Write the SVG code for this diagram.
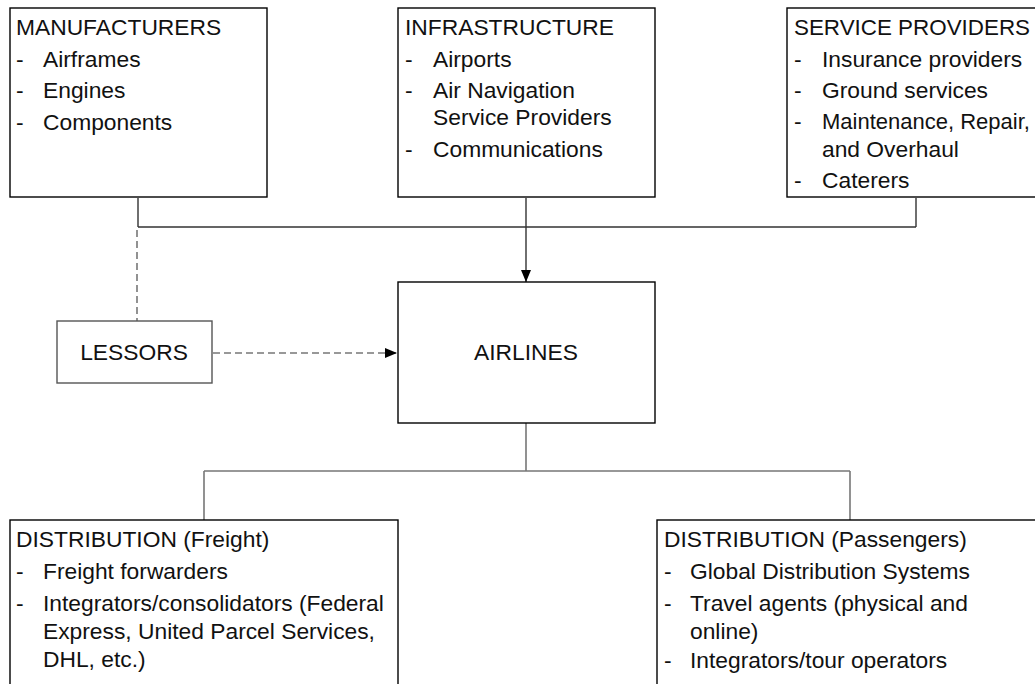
<svg xmlns="http://www.w3.org/2000/svg" width="1035" height="684" viewBox="0 0 1035 684">
  <style>
    .box { fill: #ffffff; stroke: #000000; stroke-width: 1.4; }
    .box-soft { fill: #ffffff; stroke: #555555; stroke-width: 1.4; }
    text { font-family: "Liberation Sans", Arial, sans-serif; font-size: 22.8px; fill: #111111; }
    .mid { text-anchor: middle; }
    .tight { font-size: 22px; }
    .link { fill: none; stroke: #333333; stroke-width: 1.4; }
    .link-grey { fill: none; stroke: #777777; stroke-width: 1.6; }
    .dashed { fill: none; stroke: #777777; stroke-width: 1.6; stroke-dasharray: 7 4; }
  </style>
  <defs>
    <marker id="arrow" viewBox="0 0 12 10" refX="12" refY="5" markerWidth="12" markerHeight="10" markerUnits="userSpaceOnUse" orient="auto">
      <path d="M0,0 L12,5 L0,10 Z" fill="#000000"/>
    </marker>
  </defs>

  <!-- connectors -->
  <g id="connectors">
    <!-- supply side feeding the airlines -->
    <path class="link" d="M138,198 V227 M916,198 V227 M138,227 H916"/>
    <path class="link" d="M526,198 V282" marker-end="url(#arrow)"/>
    <!-- manufacturers to lessors, lessors to airlines -->
    <path class="dashed" d="M137,230 V321"/>
    <path class="dashed" d="M213,353 H397" marker-end="url(#arrow)"/>
    <!-- airlines down to distribution -->
    <path class="link-grey" d="M526,423 V471 M204,471 H850 M204,471 V520 M850,471 V520"/>
  </g>

  <g id="manufacturers">
    <rect class="box" x="10" y="8" width="257" height="189"/>
    <text x="16" y="35">MANUFACTURERS</text>
    <text x="16" y="67">-</text><text x="43" y="67">Airframes</text>
    <text x="16" y="98">-</text><text x="43" y="98">Engines</text>
    <text x="16" y="130">-</text><text x="43" y="130">Components</text>
  </g>

  <g id="infrastructure">
    <rect class="box" x="398" y="8" width="257" height="189"/>
    <text x="405" y="35">INFRASTRUCTURE</text>
    <text x="405" y="67">-</text><text x="433" y="67">Airports</text>
    <text x="405" y="98">-</text><text x="433" y="98">Air Navigation</text>
    <text x="433" y="125">Service Providers</text>
    <text x="405" y="157">-</text><text x="433" y="157">Communications</text>
  </g>

  <g id="service-providers">
    <rect class="box" x="787" y="8" width="260" height="189"/>
    <text x="794" y="35" style="font-size:22.4px">SERVICE PROVIDERS</text>
    <text x="794" y="67">-</text><text x="822" y="67">Insurance providers</text>
    <text x="794" y="98">-</text><text x="822" y="98">Ground services</text>
    <text x="794" y="129">-</text><text class="tight" x="822" y="129">Maintenance, Repair,</text>
    <text x="822" y="157">and Overhaul</text>
    <text x="794" y="188">-</text><text x="822" y="188">Caterers</text>
  </g>

  <g id="lessors">
    <rect class="box-soft" x="57" y="321" width="155" height="62"/>
    <text class="mid" x="134" y="360">LESSORS</text>
  </g>

  <g id="airlines">
    <rect class="box" x="398" y="282" width="257" height="141"/>
    <text class="mid" x="526" y="360">AIRLINES</text>
  </g>

  <g id="distribution-freight">
    <rect class="box" x="10" y="520" width="388" height="180"/>
    <text x="16" y="547">DISTRIBUTION (Freight)</text>
    <text x="16" y="579">-</text><text x="43" y="579">Freight forwarders</text>
    <text x="16" y="611">-</text><text x="43" y="611">Integrators/consolidators (Federal</text>
    <text x="43" y="639">Express, United Parcel Services,</text>
    <text x="43" y="667">DHL, etc.)</text>
  </g>

  <g id="distribution-passengers">
    <rect class="box" x="657" y="520" width="400" height="180"/>
    <text x="664" y="547">DISTRIBUTION (Passengers)</text>
    <text x="664" y="579">-</text><text x="690" y="579">Global Distribution Systems</text>
    <text x="664" y="611">-</text><text x="690" y="611">Travel agents (physical and</text>
    <text x="690" y="639">online)</text>
    <text x="664" y="668">-</text><text x="690" y="668">Integrators/tour operators</text>
  </g>
</svg>
